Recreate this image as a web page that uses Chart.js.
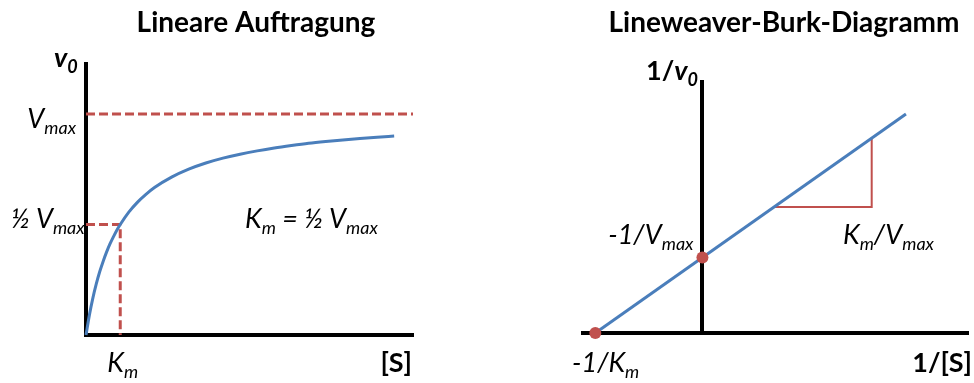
<!DOCTYPE html>
<html>
<head>
<meta charset="utf-8">
<script src="https://cdn.jsdelivr.net/npm/chart.js@4"></script>
<style>
  html, body { margin: 0; padding: 0; background: #fff; overflow: hidden; }
  #wrap { position: relative; width: 974px; height: 383px; }
  canvas { position: absolute; top: 0; }
  #left { left: 0; }
  #right { left: 487px; }
</style>
</head>
<body>
<div id="wrap">
  <canvas id="left" width="487" height="383"></canvas>
  <canvas id="right" width="487" height="383"></canvas>
</div>
<script>
// Michaelis-Menten saturation curve: [S] in units of Km, v0 in units of Vmax
const substrate = [0, 0.1, 0.2, 0.3, 0.4, 0.5, 0.6, 0.7, 0.8, 0.9, 1, 1.25, 1.5, 1.75, 2, 2.5, 3, 3.5, 4, 4.5, 5, 5.5, 6, 6.5, 7, 7.5, 8, 8.5, 9];
const velocity  = [0, 0.091, 0.167, 0.231, 0.286, 0.333, 0.375, 0.412, 0.444, 0.474, 0.5, 0.556, 0.6, 0.636, 0.667, 0.714, 0.75, 0.778, 0.8, 0.818, 0.833, 0.846, 0.857, 0.867, 0.875, 0.882, 0.889, 0.895, 0.9];
const vmaxLevel = 1;
const halfVmax = 0.5;
const kmValue = 1;
const linearXMax = 9.55;
const linearYMax = 1.226;

// Lineweaver-Burk plot: 1/[S] in units of 1/Km, 1/v0 in units of 1/Vmax
const lbLineX = [-1, 1.9];
const lbLineY = [0, 2.9];
const interceptX = [-1, 0];
const interceptY = [0, 1];
const slopeX = [0.67, 1.58, 1.58];
const slopeY = [1.67, 1.67, 2.58];
const lbXMin = -1.115;
const lbXMax = 2.479;
const lbYMax = 3.325;

const BLUE = '#4A7EBB';
const RED = '#C0504D';
const FAMILY = 'Lato, "Open Sans", sans-serif';
const TITLE_FONT = `bold 28px ${FAMILY}`;
const BOLD = `bold 27px ${FAMILY}`;
const BOLD_IT = `italic bold 27px ${FAMILY}`;
const BOLD_IT_SUB = `italic bold 18px ${FAMILY}`;
const IT = `italic 27px ${FAMILY}`;
const IT_SUB = `italic 18px ${FAMILY}`;

const pts = (xs, ys) => xs.map((x, i) => ({ x, y: ys[i] }));

function axis(extra) {
  return Object.assign({
    type: 'linear',
    grid: { display: false, drawTicks: false },
    border: { display: true, color: '#000', width: 4 },
    ticks: { display: false },
    afterFit(s) { if (s.isHorizontal()) s.height = 0; else s.width = 0; }
  }, extra);
}

// draws a row of text runs: [text, font, baselineShift]
function drawRuns(ctx, runs, x, y, align) {
  let w = 0;
  runs.forEach(r => { ctx.font = r[1]; w += ctx.measureText(r[0]).width; });
  let cx = align === 'right' ? x - w : align === 'center' ? x - w / 2 : x;
  ctx.textAlign = 'left';
  ctx.textBaseline = 'alphabetic';
  ctx.fillStyle = '#000';
  runs.forEach(r => {
    ctx.font = r[1];
    ctx.fillText(r[0], cx, y + (r[2] || 0));
    cx += ctx.measureText(r[0]).width;
  });
}

const baseOptions = {
  responsive: false,
  devicePixelRatio: 1,
  animation: false,
  events: [],
  plugins: { legend: { display: false }, tooltip: { enabled: false } }
};

// ---- Lineare Auftragung ----
const linearLabels = {
  id: 'linearLabels',
  beforeDraw(chart) {
    const { ctx, scales: { x, y } } = chart;
    ctx.save();
    drawRuns(ctx, [['Lineare Auftragung', TITLE_FONT]], 256, 32, 'center');
    drawRuns(ctx, [['v', BOLD_IT], ['0', BOLD_IT_SUB, 6]], 54, 67, 'left');
    const yV = y.getPixelForValue(vmaxLevel);
    drawRuns(ctx, [['V', IT], ['max', IT_SUB, 6]], 76, yV + 14, 'right');
    const yH = y.getPixelForValue(halfVmax);
    drawRuns(ctx, [['½ V', IT], ['max', IT_SUB, 6]], 11, yH + 4, 'left');
    drawRuns(ctx, [['K', IT], ['m', IT_SUB, 6], [' = ½ V', IT], ['max', IT_SUB, 6]], 245, yH + 4, 'left');
    drawRuns(ctx, [['K', IT], ['m', IT_SUB, 6]], x.getPixelForValue(kmValue) - 13, 372, 'left');
    drawRuns(ctx, [['[S]', BOLD]], x.right - 1, 372, 'right');
    ctx.restore();
  }
};

new Chart(document.getElementById('left'), {
  type: 'line',
  data: {
    datasets: [
      {
        data: pts(substrate, velocity),
        borderColor: BLUE, borderWidth: 3, pointRadius: 0,
        cubicInterpolationMode: 'monotone', clip: false
      },
      {
        data: pts([0, linearXMax], [vmaxLevel, vmaxLevel]),
        borderColor: RED, borderWidth: 3, borderDash: [9, 4], pointRadius: 0, clip: false
      },
      {
        data: pts([0, kmValue, kmValue], [halfVmax, halfVmax, 0]),
        borderColor: RED, borderWidth: 3, borderDash: [9, 4], pointRadius: 0, clip: false
      }
    ]
  },
  options: Object.assign({}, baseOptions, {
    layout: { padding: { left: 86, right: 74, top: 64, bottom: 48 } },
    scales: {
      x: axis({ position: 'bottom', min: 0, max: linearXMax }),
      y: axis({ position: 'left', min: 0, max: linearYMax })
    }
  }),
  plugins: [linearLabels]
});

// ---- Lineweaver-Burk-Diagramm ----
const lbLabels = {
  id: 'lbLabels',
  beforeDraw(chart) {
    const { ctx, scales: { x, y } } = chart;
    ctx.save();
    drawRuns(ctx, [['Lineweaver-Burk-Diagramm', TITLE_FONT]], 297, 32, 'center');
    drawRuns(ctx, [['1/', BOLD], ['v', BOLD_IT], ['0', BOLD_IT_SUB, 6]], 159, 80, 'left');
    const x0 = x.getPixelForValue(0);
    const yI = y.getPixelForValue(interceptY[1]);
    drawRuns(ctx, [['-1/V', IT], ['max', IT_SUB, 6]], x0 - 9, yI - 14, 'right');
    drawRuns(ctx, [['K', IT], ['m', IT_SUB, 6], ['/V', IT], ['max', IT_SUB, 6]], 356, yI - 14, 'left');
    drawRuns(ctx, [['-1/K', IT], ['m', IT_SUB, 6]], 85, 372, 'left');
    drawRuns(ctx, [['1/[S]', BOLD]], 485, 372, 'right');
    ctx.restore();
  }
};

new Chart(document.getElementById('right'), {
  type: 'line',
  data: {
    datasets: [
      {
        data: pts(interceptX, interceptY),
        showLine: false, pointRadius: 6, pointBackgroundColor: RED,
        pointBorderColor: RED, pointBorderWidth: 0, clip: false
      },
      {
        data: pts(lbLineX, lbLineY),
        borderColor: BLUE, borderWidth: 3, pointRadius: 0, clip: false
      },
      {
        data: pts(slopeX, slopeY),
        borderColor: RED, borderWidth: 2, pointRadius: 0, clip: false
      }
    ]
  },
  options: Object.assign({}, baseOptions, {
    layout: { padding: { left: 96, right: 1, top: 82, bottom: 50 } },
    scales: {
      x: axis({ position: 'bottom', min: lbXMin, max: lbXMax }),
      y: axis({ position: { x: 0 }, min: 0, max: lbYMax })
    }
  }),
  plugins: [lbLabels]
});
</script>
</body>
</html>
